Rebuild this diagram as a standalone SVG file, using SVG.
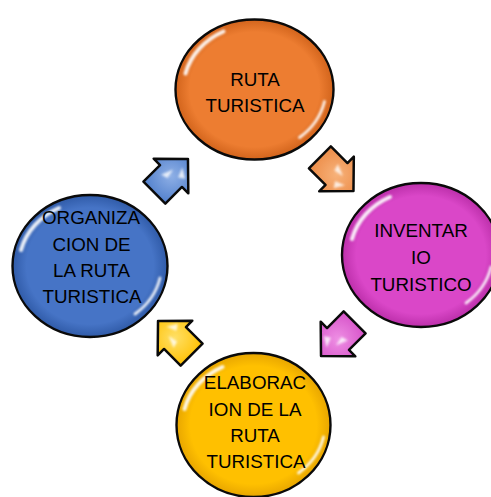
<svg xmlns="http://www.w3.org/2000/svg" width="491" height="497" viewBox="0 0 491 497">
<defs>
  <style>
    .ring{stroke:#0a0a0a;stroke-width:2.4}
    .hl{fill:none;stroke:#fff;stroke-width:4;stroke-linecap:round;opacity:.9;filter:url(#blur)}
    .lbl{font-family:"Liberation Sans",Arial,sans-serif;font-size:18.8px;fill:#000;text-anchor:middle}
    .arr{stroke:#0a0a0a;stroke-width:2.5;stroke-linejoin:round}
    .glint{fill:#fff;opacity:.8;filter:url(#blur2)}
  </style>
  <filter id="blur" x="-20%" y="-20%" width="140%" height="140%"><feGaussianBlur stdDeviation="1.2"/></filter>
  <filter id="blur2" x="-50%" y="-50%" width="200%" height="200%"><feGaussianBlur stdDeviation="1.3"/></filter>
  <radialGradient id="gO" cx="50%" cy="50%" r="50%"><stop offset="0.82" stop-color="#ED7D31"/><stop offset="1" stop-color="#D2641C"/></radialGradient>
  <radialGradient id="gP" cx="50%" cy="50%" r="50%"><stop offset="0.82" stop-color="#DA47C8"/><stop offset="1" stop-color="#BC2FAA"/></radialGradient>
  <radialGradient id="gB" cx="50%" cy="50%" r="50%"><stop offset="0.82" stop-color="#4674C6"/><stop offset="1" stop-color="#305BA8"/></radialGradient>
  <radialGradient id="gY" cx="50%" cy="50%" r="50%"><stop offset="0.82" stop-color="#FFC000"/><stop offset="1" stop-color="#E8A600"/></radialGradient>
  <radialGradient id="aO" cx="50%" cy="50%" r="60%"><stop offset="0" stop-color="#F7B27A"/><stop offset="1" stop-color="#EC8A45"/></radialGradient>
  <radialGradient id="aP" cx="50%" cy="50%" r="60%"><stop offset="0" stop-color="#EE8FE4"/><stop offset="1" stop-color="#D651C8"/></radialGradient>
  <radialGradient id="aB" cx="50%" cy="50%" r="60%"><stop offset="0" stop-color="#8FB0E6"/><stop offset="1" stop-color="#4F7ECB"/></radialGradient>
  <radialGradient id="aY" cx="50%" cy="50%" r="60%"><stop offset="0" stop-color="#FFE066"/><stop offset="1" stop-color="#FFC000"/></radialGradient>
  <path id="arrow" d="M -23.5 -15.5 L 0 -15.5 L 0 -24.5 L 24 0 L 0 24.5 L 0 15.5 L -23.5 15.5 Z"/>
  <g id="shine">
    <path class="hl" d="M -69 -16 A 71 64 0 0 1 -31 -58"/>
    <path class="hl" d="M 70 12 A 71 64 0 0 1 45 48" style="stroke-width:2.8"/>
  </g>
</defs>
<rect width="491" height="497" fill="#fff"/>

<g id="connectors">
  <g id="arrow-orange" transform="translate(336.5,174) rotate(45)">
    <use href="#arrow" class="arr" fill="url(#aO)"/>
    <path class="glint" d="M -6 -8 L 6 -3 L -4 -1 Z"/>
    <path class="glint" d="M 4 6 L 14 2 L 8 12 Z"/>
  </g>
  <g id="arrow-pink" transform="translate(338,339) rotate(135)">
    <use href="#arrow" class="arr" fill="url(#aP)"/>
    <path class="glint" d="M -6 -8 L 6 -3 L -4 -1 Z"/>
    <path class="glint" d="M 4 6 L 14 2 L 8 12 Z"/>
  </g>
  <g id="arrow-yellow" transform="translate(175,338) rotate(225)">
    <use href="#arrow" class="arr" fill="url(#aY)"/>
    <path class="glint" d="M -6 -8 L 6 -3 L -4 -1 Z"/>
    <path class="glint" d="M 4 6 L 14 2 L 8 12 Z"/>
  </g>
  <g id="arrow-blue" transform="translate(171,176) rotate(-45)">
    <use href="#arrow" class="arr" fill="url(#aB)"/>
    <path class="glint" d="M -6 -8 L 6 -3 L -4 -1 Z"/>
    <path class="glint" d="M 4 6 L 14 2 L 8 12 Z"/>
  </g>
</g>

<g id="node-ruta" transform="translate(254.5,89.5)">
  <ellipse class="ring" rx="79" ry="70" fill="url(#gO)"/>
  <use href="#shine"/>
  <text class="lbl" x="0.5" y="-3.5">RUTA</text>
  <text class="lbl" x="0.5" y="22.5">TURISTICA</text>
</g>

<g id="node-inventario" transform="translate(421,255)">
  <ellipse class="ring" rx="79" ry="72" fill="url(#gP)"/>
  <use href="#shine"/>
  <text class="lbl" x="0" y="-18.3">INVENTAR</text>
  <text class="lbl" x="0" y="9.3">IO</text>
  <text class="lbl" x="0" y="35.7">TURISTICO</text>
</g>

<g id="node-elaboracion" transform="translate(253.5,425)">
  <ellipse class="ring" rx="77" ry="72" fill="url(#gY)"/>
  <use href="#shine"/>
  <text class="lbl" x="1.5" y="-36">ELABORAC</text>
  <text class="lbl" x="1.5" y="-9.3">ION DE LA</text>
  <text class="lbl" x="1.5" y="16.7">RUTA</text>
  <text class="lbl" x="2.5" y="42.7">TURISTICA</text>
</g>

<g id="node-organizacion" transform="translate(90,266)">
  <ellipse class="ring" rx="77.5" ry="71" fill="url(#gB)"/>
  <use href="#shine"/>
  <text class="lbl" x="1" y="-41.7">ORGANIZA</text>
  <text class="lbl" x="1.5" y="-15.3">CION DE</text>
  <text class="lbl" x="1.5" y="11.3">LA RUTA</text>
  <text class="lbl" x="2" y="37.3">TURISTICA</text>
</g>
</svg>
